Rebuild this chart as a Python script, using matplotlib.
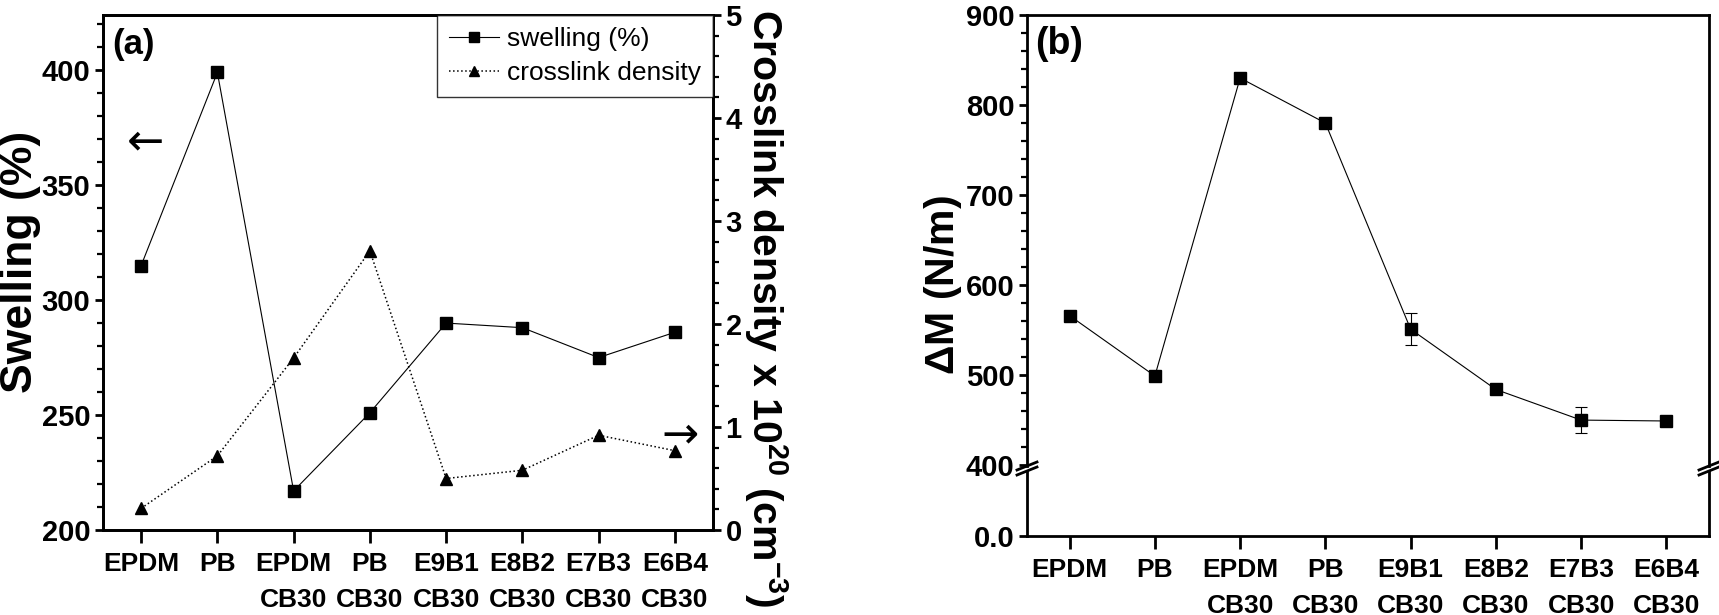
import matplotlib
matplotlib.use('Agg')
import matplotlib.pyplot as plt
from matplotlib import font_manager
from matplotlib.lines import Line2D
from matplotlib.ticker import MultipleLocator, FixedLocator
import numpy as np

categories = ["EPDM", "PB", "EPDM\nCB30", "PB\nCB30", "E9B1\nCB30",
              "E8B2\nCB30", "E7B3\nCB30", "E6B4\nCB30"]
swelling = [315, 399, 217, 251, 290, 288, 275, 286]
crosslink = [0.21, 0.72, 1.67, 2.71, 0.50, 0.58, 0.92, 0.77]
delta_m = [566, 499, 830, 780, 551, 484, 450, 449]
delta_m_err = [3, 3, 6, 3, 18, 3, 14, 2]

available = {f.name for f in font_manager.fontManager.ttflist}
NARROW = 'Liberation Sans Narrow' if 'Liberation Sans Narrow' in available else 'Liberation Sans'
WIDE = 'Liberation Sans'
plt.rcParams['font.family'] = [WIDE, 'DejaVu Sans']
plt.rcParams['mathtext.fontset'] = 'custom'
plt.rcParams['mathtext.rm'] = 'Liberation Sans'
plt.rcParams['mathtext.bf'] = 'Liberation Sans:bold'

W, H = 1719, 615
fig = plt.figure(figsize=(W / 100, H / 100), dpi=100)


def box(l, r, t, b):
    return [l / W, 1 - b / H, (r - l) / W, (b - t) / H]


x = np.arange(len(categories))
YTICKFS = 21
XTICKFS = 19
LABELFS = 29.5


def style_labels(labels, size):
    for t in labels:
        t.set_fontfamily(NARROW)
        t.set_fontweight('bold')
        t.set_fontsize(size)


# ---------------- panel (a) ----------------
ax1 = fig.add_axes(box(103, 713, 15, 530))
ax2 = ax1.twinx()
l1, = ax1.plot(x, swelling, '-', color='black', lw=0.8, marker='s', ms=8,
               label='swelling (%)')
l2, = ax2.plot(x, crosslink, ':', color='black', lw=1.1, marker='^', ms=9,
               label='crosslink density')
ax1.set_xlim(-0.5, 7.5)
ax1.set_ylim(200, 424)
ax2.set_ylim(0, 5)
ax1.set_xticks(x)
ax1.set_xticklabels(categories, linespacing=1.6)
ax1.yaxis.set_major_locator(MultipleLocator(50))
ax1.yaxis.set_minor_locator(MultipleLocator(10))
ax2.yaxis.set_major_locator(MultipleLocator(1))
ax2.yaxis.set_minor_locator(MultipleLocator(0.2))
for ax in (ax1, ax2):
    for s in ax.spines.values():
        s.set_linewidth(2)
ax1.tick_params(axis='y', which='major', direction='out', length=6, width=2, pad=3)
ax1.tick_params(axis='y', which='minor', direction='out', length=4, width=1.6)
ax2.tick_params(axis='y', which='major', direction='out', length=6, width=2, pad=3)
ax2.tick_params(axis='y', which='minor', direction='out', length=4, width=1.6)
ax1.tick_params(axis='x', which='major', direction='out', length=9, width=2, pad=7)
ax1.tick_params(axis='x', which='minor', bottom=False)
style_labels(ax1.get_yticklabels() + ax2.get_yticklabels(), YTICKFS)
style_labels(ax1.get_xticklabels(), XTICKFS)

ax1.set_ylabel('Swelling (%)', fontsize=32, fontweight='bold')
ax1.yaxis.set_label_coords(-0.102, 0.52)
ax2.set_ylabel(r'Crosslink density x 10$^{\mathbf{20}}$ (cm$^{\mathbf{-3}}$)',
               fontsize=LABELFS, fontweight='bold', rotation=270, va='center')
ax2.yaxis.set_label_coords(1.087, 0.43)

ax1.text(0.015, 0.975, '(a)', transform=ax1.transAxes, fontsize=25,
         fontweight='bold', fontfamily=NARROW, va='top', ha='left')
ax1.text(0.05, 369, '\u2190', fontsize=32, fontfamily='DejaVu Sans',
         ha='center', va='center')
ax2.text(7.07, 0.92, '\u2192', fontsize=32, fontfamily='DejaVu Sans',
         ha='center', va='center')

leg = ax2.legend(handles=[l1, l2], loc='upper right', borderaxespad=0,
                 fancybox=False, edgecolor='black',
                 handlelength=1.9, handletextpad=0.3, borderpad=0.45,
                 labelspacing=0.4, prop={'family': NARROW, 'size': 19})
leg.get_frame().set_linewidth(1.0)
for lh in leg.legend_handles:
    lh.set_markersize(6.5)

# ---------------- panel (b) ----------------
BREAK_TOP, BREAK_BOT = 466, 471
axb = fig.add_axes(box(1027, 1709, 15, BREAK_TOP))
axl = fig.add_axes(box(1027, 1709, BREAK_BOT, 536), sharex=axb)
axb.errorbar(x, delta_m, yerr=delta_m_err, fmt='-s', color='black', lw=0.8,
             ms=8, capsize=4, elinewidth=0.8, capthick=0.8)
axb.set_xlim(-0.5, 7.5)
axb.set_ylim(399, 900)
axl.set_ylim(0, 1)
axb.yaxis.set_major_locator(MultipleLocator(100))
axb.yaxis.set_minor_locator(MultipleLocator(20))
axl.yaxis.set_major_locator(FixedLocator([0]))
axl.set_yticklabels(['0.0'])
axl.set_xticks(x)
axl.set_xticklabels(categories, linespacing=1.6)
for ax in (axb, axl):
    for s in ax.spines.values():
        s.set_linewidth(2)
axb.spines['bottom'].set_visible(False)
axl.spines['top'].set_visible(False)
axb.tick_params(axis='x', which='both', bottom=False, labelbottom=False)
axb.tick_params(axis='y', which='major', direction='out', length=6, width=2, pad=3)
axb.tick_params(axis='y', which='minor', direction='out', length=4, width=1.6)
axl.tick_params(axis='y', which='major', direction='out', length=6, width=2, pad=3)
axl.tick_params(axis='y', which='minor', left=False)
axl.tick_params(axis='x', which='major', direction='out', length=9, width=2, pad=7)
axl.tick_params(axis='x', which='minor', bottom=False)
style_labels(axb.get_yticklabels() + axl.get_yticklabels(), YTICKFS)
style_labels(axl.get_xticklabels(), XTICKFS)

axb.set_ylabel(r'$\mathbf{\Delta}$M (N/m)', fontsize=LABELFS, fontweight='bold')
axb.yaxis.set_label_coords(-0.093, 0.40)
axb.text(0.012, 0.975, '(b)', transform=axb.transAxes, fontsize=27,
         fontweight='bold', fontfamily=NARROW, va='top', ha='left')

# break marks
for xp in (1027, 1709):
    for yp in (BREAK_TOP, BREAK_BOT):
        fig.add_artist(Line2D([(xp - 10) / W, (xp + 10) / W],
                              [1 - (yp + 4) / H, 1 - (yp - 4) / H],
                              transform=fig.transFigure, color='black', lw=2))

fig.savefig('out.png', dpi=100)
